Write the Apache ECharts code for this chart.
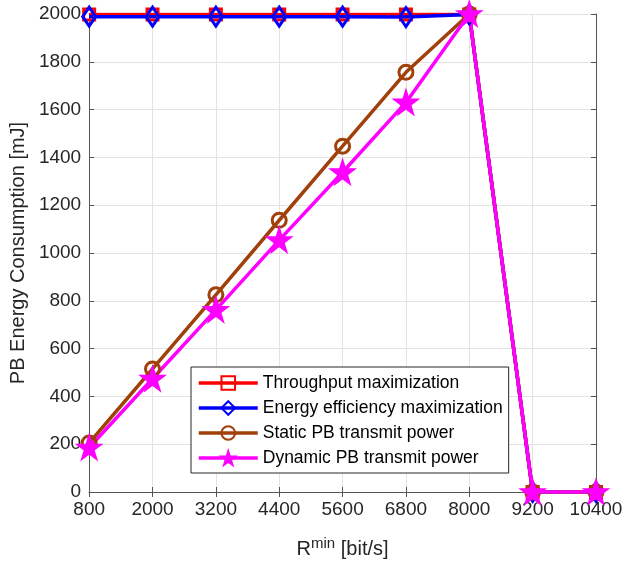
<!DOCTYPE html>
<html>
<head>
<meta charset="utf-8">
<script src="https://cdn.jsdelivr.net/npm/echarts@6/dist/echarts.min.js"></script>
<style>
  html, body { margin: 0; padding: 0; background: #fff; }
  #chart { width: 633px; height: 569px; }
</style>
</head>
<body>
<div id="chart"></div>
<script>
var categories = ['800', '2000', '3200', '4400', '5600', '6800', '8000', '9200', '10400'];
var yTicks = [0, 2000, 200];

var throughput = [1998, 1998, 1998, 1998, 1998, 1998, 1998, 0, 0];
var energyEff = [1989, 1989, 1989, 1989, 1989, 1987, 1998, 0, 0];
var staticPB = [205, 515, 825, 1137, 1447, 1756, 2000, 0, 0];
var dynamicPB = [186, 474, 762, 1054, 1338, 1630, 2000, 0, 0];

var names = ['Throughput maximization', 'Energy efficiency maximization',
    'Static PB transmit power', 'Dynamic PB transmit power'];

var starPath = 'path://M100 0 L122.45 69.1 L195.11 69.1 L136.33 111.8 L158.78 180.9 L100 138.2 L41.22 180.9 L63.67 111.8 L4.89 69.1 L77.55 69.1 Z';
var font = 'Liberation Sans, Arial, Helvetica, sans-serif';

var chart = echarts.init(document.getElementById('chart'));

function makeSeries(name, data, color, symbol, size, filled) {
    return {
        name: name,
        type: 'line',
        data: data,
        symbol: symbol,
        symbolSize: size,
        lineStyle: { color: color, width: 3.5 },
        itemStyle: {
            color: filled ? color : 'rgba(255,255,255,0)',
            borderColor: color,
            borderWidth: 3
        },
        emphasis: { disabled: true },
        animation: false
    };
}

var option = {
    backgroundColor: '#fff',
    textStyle: { fontFamily: font },
    grid: { left: 88, right: 37, top: 14, bottom: 77 },
    legend: {
        orient: 'vertical',
        left: 191,
        top: 367,
        data: names,
        itemWidth: 59,
        itemHeight: 17,
        itemGap: 7,
        padding: [7, 6, 6, 6],
        backgroundColor: '#fff',
        borderColor: '#262626',
        borderWidth: 1,
        borderRadius: 0,
        lineStyle: { width: 3.5 },
        textStyle: { fontSize: 17.5, color: '#000', fontFamily: font }
    },
    xAxis: [{
        type: 'category',
        data: categories,
        boundaryGap: false,
        position: 'bottom',
        axisLine: { lineStyle: { color: '#555', width: 1 } },
        axisTick: { inside: true, length: 5, interval: 0, lineStyle: { color: '#555' } },
        axisLabel: { fontSize: 19, color: '#262626', margin: 8, fontFamily: font, interval: 0, hideOverlap: false },
        splitLine: { show: true, interval: 0, lineStyle: { color: '#e3e3e3', width: 1 } },
        name: '{a|R}{b|min}{a| [bit/s]}',
        nameLocation: 'middle',
        nameGap: 44,
        nameTextStyle: {
            rich: {
                a: { fontSize: 20, color: '#262626', fontFamily: font },
                b: { fontSize: 15, color: '#262626', fontFamily: font, padding: [0, 0, 11, 0] }
            }
        }
    }, {
        type: 'category',
        data: categories,
        boundaryGap: false,
        position: 'top',
        axisLine: { lineStyle: { color: '#555', width: 1 } },
        axisTick: { inside: true, length: 5, interval: 0, lineStyle: { color: '#555' } },
        axisLabel: { show: false },
        splitLine: { show: false }
    }],
    yAxis: [{
        type: 'value',
        min: yTicks[0],
        max: yTicks[1],
        interval: yTicks[2],
        position: 'left',
        axisLine: { show: true, lineStyle: { color: '#555', width: 1 } },
        axisTick: { show: true, inside: true, length: 5, lineStyle: { color: '#555' } },
        axisLabel: {
            fontSize: 19, color: '#262626', margin: 8, fontFamily: font,
            formatter: function (v) { return String(v); }
        },
        splitLine: { show: true, lineStyle: { color: '#e3e3e3', width: 1 } },
        name: 'PB Energy Consumption [mJ]',
        nameLocation: 'middle',
        nameGap: 60,
        nameTextStyle: { fontSize: 20, color: '#262626', fontFamily: font }
    }, {
        type: 'value',
        min: yTicks[0],
        max: yTicks[1],
        interval: yTicks[2],
        position: 'right',
        axisLine: { show: true, lineStyle: { color: '#555', width: 1 } },
        axisTick: { show: true, inside: true, length: 5, lineStyle: { color: '#555' } },
        axisLabel: { show: false },
        splitLine: { show: false }
    }],
    series: [
        makeSeries(names[0], throughput, '#ff0000', 'rect', 11, false),
        makeSeries(names[1], energyEff, '#0000ff', 'diamond', [13, 19], false),
        makeSeries(names[2], staticPB, '#a0400a', 'circle', 14, false),
        makeSeries(names[3], dynamicPB, '#ff00ff', starPath, 20, true)
    ]
};
chart.setOption(option);
</script>
</body>
</html>
